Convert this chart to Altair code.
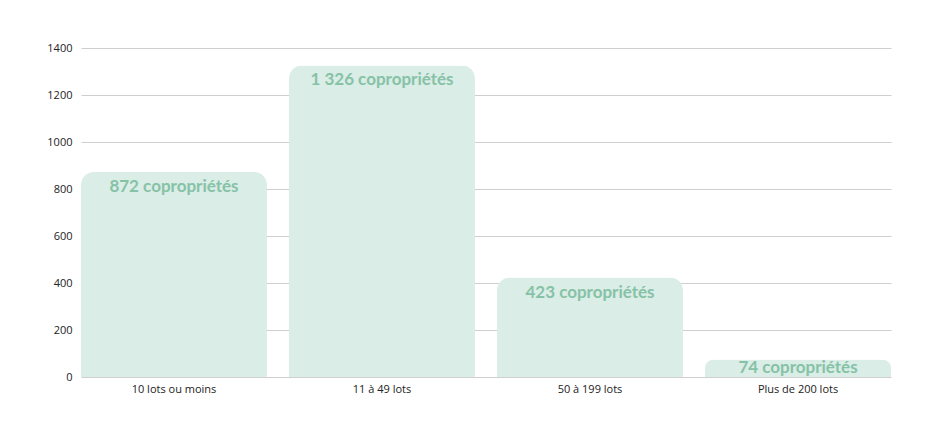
import altair as alt
import pandas as pd

categories = ["10 lots ou moins", "11 à 49 lots", "50 à 199 lots", "Plus de 200 lots"]
values = [872, 1326, 423, 74]
labels = ["872 copropriétés", "1 326 copropriétés", "423 copropriétés", "74 copropriétés"]

df = pd.DataFrame({"cat": categories, "val": values, "lab": labels})

x = alt.X("cat:N", sort=categories, title=None,
          scale=alt.Scale(paddingInner=0.106, paddingOuter=0),
          axis=alt.Axis(labelAngle=0, domain=False, ticks=False, labelPadding=6,
                        labelFont="Open Sans", labelFontSize=11, labelColor="#222"))
y = alt.Y("val:Q", title=None,
          scale=alt.Scale(domain=[0, 1400], nice=False),
          axis=alt.Axis(values=[0, 200, 400, 600, 800, 1000, 1200, 1400], format="d",
                        domain=False, ticks=False, labelPadding=9,
                        labelFont="Open Sans", labelFontSize=11, labelColor="#222",
                        gridColor="#cfcfcf", gridWidth=1))

bars = alt.Chart(df).mark_bar(color="#daede6", cornerRadiusTopLeft=13,
                              cornerRadiusTopRight=13).encode(x=x, y=y)
text = alt.Chart(df).transform_calculate(
    ly="max(datum.val - 64, datum.val / 2)"
).mark_text(color="#86c2a6", font="Lato", fontWeight="bold", fontSize=17).encode(
    x=alt.X("cat:N", sort=categories),
    y=alt.Y("ly:Q", scale=alt.Scale(domain=[0, 1400], nice=False)),
    text="lab:N")

chart = (bars + text).properties(
    width=810, height=329,
    autosize=alt.AutoSizeParams(type="none"),
    padding={"left": 73, "top": 40, "right": 30, "bottom": 40},
).configure_view(stroke=None)

chart.save("out.html", embed_options={"renderer": "svg", "actions": False})
